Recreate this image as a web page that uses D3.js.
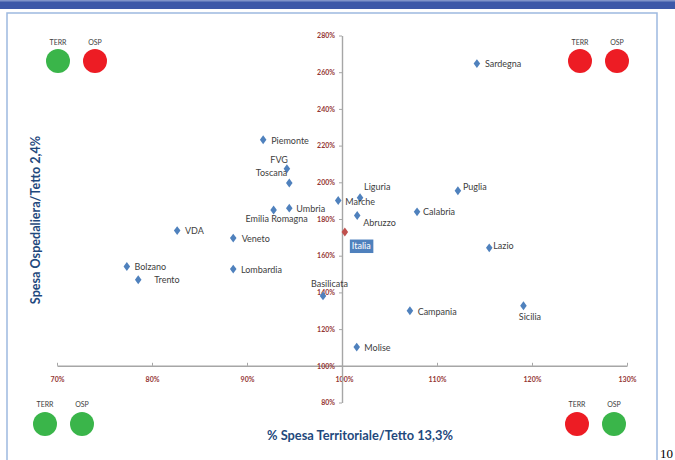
<!DOCTYPE html>
<html><head><meta charset="utf-8">
<script src="https://cdn.jsdelivr.net/npm/d3@7"></script>
<style>html,body{margin:0;padding:0;background:#fff;}svg{display:block;}</style>
</head><body>
<svg id="chart" width="675" height="460"></svg>
<script>
// ---- data ----
const regions = ["Sardegna","Piemonte","FVG","Toscana","Umbria","Emilia Romagna","Marche","Liguria","Abruzzo","Italia","Calabria","Puglia","Lazio","Sicilia","Campania","Molise","Basilicata","Lombardia","Veneto","VDA","Bolzano","Trento"];
const spesaTerritoriale = [114.2,91.7,94.2,94.45,94.45,92.8,99.6,101.9,101.6,100.3,107.9,112.2,115.5,119.1,107.15,101.55,98.0,88.55,88.55,82.65,77.35,78.55];
const spesaOspedaliera = [264.7,223.2,207.4,199.6,185.9,184.9,190.1,191.6,181.9,172.9,183.9,195.4,164.3,132.7,130.0,110.2,138.1,152.7,169.6,173.7,154.1,146.9];
const xTicks = [70,80,90,100,110,120,130];
const yTicks = [80,100,120,140,160,180,200,220,240,260,280];
const quadrantNames = ["topLeft","topRight","bottomLeft","bottomRight"];
const terrStatus = ["green","red","green","red"];
const ospStatus = ["red","red","green","green"];
const indicatorLabels = ["TERR","OSP"];
const xTitle = "% Spesa Territoriale/Tetto 13,3%";
const yTitle = "Spesa Ospedaliera/Tetto 2,4%";

// ---- layout / style (not data) ----
const labelPos = {
  "Sardegna":[8,0,"start"],"Piemonte":[8,1,"start"],"FVG":[1,-8.5,"end"],"Toscana":[-2,-10,"end"],
  "Umbria":[7,1,"start"],"Emilia Romagna":[3,8.5,"middle"],"Marche":[7,1,"start"],"Liguria":[4,-10.7,"start"],
  "Abruzzo":[6,7.5,"start"],"Calabria":[6,0,"start"],"Puglia":[5,-4,"start"],"Lazio":[4,-2,"start"],
  "Sicilia":[6.5,11,"middle"],"Campania":[7.7,0.7,"start"],"Molise":[7.6,0.4,"start"],"Basilicata":[6.4,-12,"middle"],
  "Lombardia":[7.7,1,"start"],"Veneto":[8.4,0.7,"start"],"VDA":[7.7,0.3,"start"],"Bolzano":[7.6,0,"start"],"Trento":[16,0.3,"start"]
};
const quadPos = {topLeft:[58,61,43],topRight:[580,61,43],bottomLeft:[45,424,405],bottomRight:[577,424,405]};
const colorMap = {green:"#3AB54A", red:"#ED1C24"};

const svg = d3.select("#chart");
// header band & border
svg.append("rect").attr("x",0).attr("y",0).attr("width",675).attr("height",9).attr("fill","#3C58A8");
svg.append("rect").attr("x",0).attr("y",0).attr("width",675).attr("height",1.5).attr("fill","#7F93C9");
svg.append("rect").attr("x",7).attr("y",13).attr("width",650).attr("height",460).attr("fill","none").attr("stroke","#9DB9E0").attr("stroke-width",1.5);

const x = d3.scaleLinear().domain([70,130]).range([57,627]);
const y = d3.scaleLinear().domain([80,280]).range([402.5,35.5]);
const fmt = d => d + "%";

// x axis
const gx = svg.append("g").attr("transform",`translate(0,${y(100)})`)
  .call(d3.axisBottom(x).tickValues(xTicks).tickFormat(fmt).tickSizeInner(-3).tickSizeOuter(0).tickPadding(11));
// y axis
const gy = svg.append("g").attr("transform",`translate(${x(100)},0)`)
  .call(d3.axisLeft(y).tickValues(yTicks).tickFormat(fmt).tickSizeInner(3).tickSizeOuter(0).tickPadding(4));
[gx,gy].forEach(g=>{
  g.select(".domain").attr("stroke","#A6A6A6").attr("stroke-width",1.4);
  g.selectAll(".tick line").attr("stroke","#A6A6A6").attr("stroke-width",1);
  g.selectAll(".tick text").attr("fill","#953735").attr("font-family","Lato, sans-serif").attr("font-weight","bold").attr("font-size",7);
});
gx.selectAll(".tick text").attr("dx", d => d===100 ? 2 : 0);

// points
const pts = regions.map((r,i)=>({name:r, tx:spesaTerritoriale[i], os:spesaOspedaliera[i]}));
const diamond = d3.symbol().type(d3.symbolDiamond).size(28);
svg.append("g").selectAll("path").data(pts).join("path")
  .attr("d", diamond)
  .attr("transform", d=>`translate(${x(d.tx)},${y(d.os)}) scale(1.15,0.9)`)
  .attr("fill", d => d.name==="Italia" ? "#C0504D" : "#4F81BD");

// labels
const lg = svg.append("g").attr("font-family","Lato, sans-serif").attr("font-size",9).attr("fill","#404040");
pts.filter(d=>d.name!=="Italia").forEach(d=>{
  const p = labelPos[d.name];
  lg.append("text").attr("x", x(d.tx)+p[0]).attr("y", y(d.os)+p[1]).attr("dy","0.35em")
    .attr("text-anchor",p[2]).text(d.name);
});
// Italia label box
const it = pts.find(d=>d.name==="Italia");
const ix = x(it.tx)+5, iy = y(it.os)+7.5;
svg.append("rect").attr("x",ix).attr("y",iy).attr("width",23.5).attr("height",13.5).attr("fill","#4F81BD");
svg.append("text").attr("x",ix+2).attr("y",iy+6.8).attr("dy","0.35em").attr("font-family","Lato, sans-serif").attr("font-size",9).attr("fill","#fff").text("Italia");

// quadrant indicators
quadrantNames.forEach((q,i)=>{
  const [cx,cy,ly] = quadPos[q];
  [terrStatus[i], ospStatus[i]].forEach((s,j)=>{
    const xx = cx + j*37;
    svg.append("circle").attr("cx",xx).attr("cy",cy).attr("r",12).attr("fill",colorMap[s]);
    svg.append("text").attr("x",xx).attr("y",ly).attr("dy","0.35em").attr("text-anchor","middle")
      .attr("font-family","Lato, sans-serif").attr("font-size",7).attr("fill","#404040").text(indicatorLabels[j]);
  });
});

// axis titles
svg.append("text").attr("x",360).attr("y",436).attr("dy","0.35em").attr("text-anchor","middle")
  .attr("font-family","Lato, sans-serif").attr("font-weight","bold").attr("font-size",12.8).attr("fill","#1F497D").text(xTitle);
svg.append("text").attr("transform","translate(36,220) rotate(-90)").attr("dy","0.35em").attr("text-anchor","middle")
  .attr("font-family","Lato, sans-serif").attr("font-weight","bold").attr("font-size",12.6).attr("fill","#1F497D").text(yTitle);

// page number
svg.append("text").attr("x",660).attr("y",458).attr("font-family","Liberation Serif, serif").attr("font-size",13).attr("fill","#000").text("10");
</script>
</body></html>
